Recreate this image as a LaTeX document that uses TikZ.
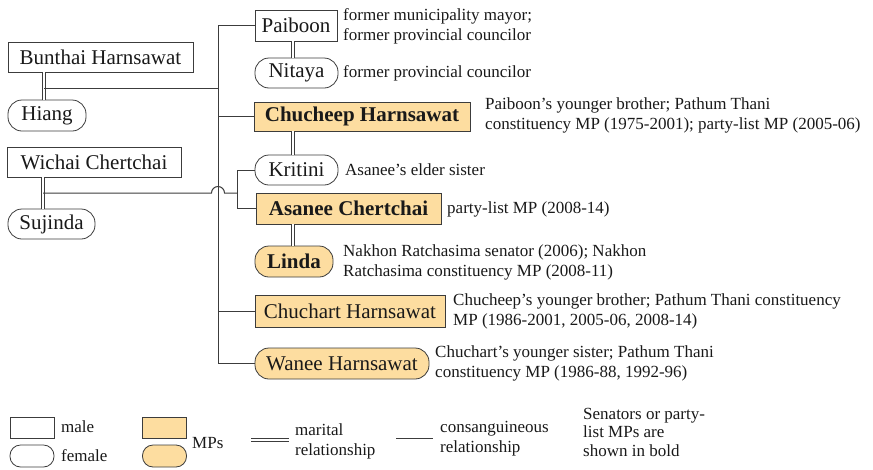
\documentclass[tikz,border=0pt]{standalone}
\usepackage{fontspec}
\setmainfont{Liberation Serif}
\definecolor{mpfill}{RGB}{253,221,160}
\definecolor{ln}{RGB}{60,60,60}
\definecolor{tx}{RGB}{25,25,25}
\tikzset{
  person/.style={draw=ln, line width=0.8pt, text=tx, inner sep=0pt,
     font=\fontsize{21}{24}\selectfont},
  male/.style={person, rectangle},
  female/.style={person, rectangle, rounded corners=14pt},
  mp/.style={fill=mpfill},
  bold/.style={font=\fontsize{21}{24}\selectfont\bfseries},
  note/.style={anchor=west, inner sep=0pt, align=left, text=tx,
     font=\fontsize{17}{20}\selectfont},
  blood/.style={draw=ln, line width=1pt},
  marital/.style={draw=ln, line width=0.7pt, double=white, double distance=2pt},
  lgm/.style={draw=ln, line width=0.8pt, inner sep=0pt, minimum width=44pt, minimum height=21pt},
}
\begin{document}
\begin{tikzpicture}[x=1pt,y=-1pt]
\useasboundingbox (0,0) rectangle (873,469);
% persons
\node[male, minimum width=185pt, minimum height=30pt] (bunthai) at (100.5,57) {Bunthai Harnsawat};
\node[female, minimum width=78pt, minimum height=31pt] (hiang) at (47,115.5) {Hiang};
\node[male, minimum width=174pt, minimum height=30pt] (wichai) at (94,162) {Wichai Chertchai};
\node[female, minimum width=87pt, minimum height=30pt] (sujinda) at (51.5,224) {Sujinda};
\node[male, minimum width=82pt, minimum height=31pt] (paiboon) at (296,25.5) {Paiboon};
\node[female, minimum width=83pt, minimum height=30pt] (nitaya) at (296.5,73) {Nitaya};
\node[male, mp, bold, minimum width=216pt, minimum height=29pt] (chucheep) at (362,116.5) {Chucheep Harnsawat};
\node[female, minimum width=83pt, minimum height=30pt] (kritini) at (296.5,170) {Kritini};
\node[male, mp, bold, minimum width=185pt, minimum height=31pt] (asanee) at (348.5,208.5) {Asanee Chertchai};
\node[female, mp, bold, minimum width=78pt, minimum height=31pt] (linda) at (294,261.5) {Linda};
\node[male, mp, minimum width=190pt, minimum height=32pt] (chuchart) at (350,311) {Chuchart Harnsawat};
\node[female, mp, minimum width=174pt, minimum height=31pt] (wanee) at (342,363.5) {Wanee Harnsawat};
% notes
\node[note] (n1) at (343,26) {former municipality mayor;\\former provincial councilor};
\node[note] (n2) at (343,73) {former provincial councilor};
\node[note] (n3) at (485,115) {Paiboon’s younger brother; Pathum Thani\\constituency MP (1975-2001); party-list MP (2005-06)};
\node[note] (n4) at (345,170) {Asanee’s elder sister};
\node[note] (n5) at (447,209) {party-list MP (2008-14)};
\node[note] (n6) at (343,262) {Nakhon Ratchasima senator (2006); Nakhon\\Ratchasima constituency MP (2008-11)};
\node[note] (n7) at (453,311) {Chucheep’s younger brother; Pathum Thani constituency\\MP (1986-2001, 2005-06, 2008-14)};
\node[note] (n8) at (435,363.5) {Chuchart’s younger sister; Pathum Thani\\constituency MP (1986-88, 1992-96)};
% coordinates
\coordinate (bh) at (44,88);
\coordinate (ws) at (43,193);
\coordinate (tk) at (218,88);
\coordinate (kx) at (237,193);
\coordinate (mx) at (293,0);
% marital links
\draw[marital] (bunthai.south -| bh) -- (hiang.north -| bh);
\draw[marital] (wichai.south -| ws) -- (sujinda.north -| ws);
\draw[marital] (paiboon.south -| mx) -- (nitaya.north -| mx);
\draw[marital] (chucheep.south -| mx) -- (kritini.north -| mx);
\draw[marital] (asanee.south -| mx) -- (linda.north -| mx);
% blood links
\draw[blood] (paiboon.west) -- (paiboon.west -| tk) -- (wanee.west -| tk) -- (wanee.west);
\draw[blood] (chucheep.west -| tk) -- (chucheep.west);
\draw[blood] (chuchart.west -| tk) -- (chuchart.west);
\draw[blood] (bh) -- (tk);
\draw[blood] (kritini.west) -- (kritini.west -| kx) -- (asanee.west -| kx) -- (asanee.west);
\draw[blood] (ws) -- ([xshift=-6.5pt]ws -| tk) arc[start angle=180, end angle=0, radius=6.5pt] -- (kx);
% legend
\node[lgm] (lm) at (32,427.5) {};
\node[lgm, rounded corners=10.5pt, minimum height=22pt] (lf) at (32,456) {};
\node[note] (lmt) at (61,427) {male};
\node[note] (lft) at (61,456) {female};
\node[lgm, fill=mpfill] (lmp1) at (164.5,427.5) {};
\node[lgm, fill=mpfill, rounded corners=10.5pt, minimum height=22pt] (lmp2) at (164.5,456) {};
\node[note] (lmpt) at (192,443) {MPs};
\coordinate (ma) at (251,440);
\coordinate (mb) at (289,440);
\draw[marital] (ma) -- (mb);
\node[note] (lmar) at (295,441) {marital\\relationship};
\coordinate (ca) at (396,438);
\coordinate (cb) at (433,438);
\draw[blood] (ca) -- (cb);
\node[note] (lcon) at (440,439) {consanguineous\\relationship};
\node[note, font=\fontsize{17}{18.5}\selectfont] (lsen) at (583,432) {Senators or party-\\list MPs are\\shown in bold};
\end{tikzpicture}
\end{document}
